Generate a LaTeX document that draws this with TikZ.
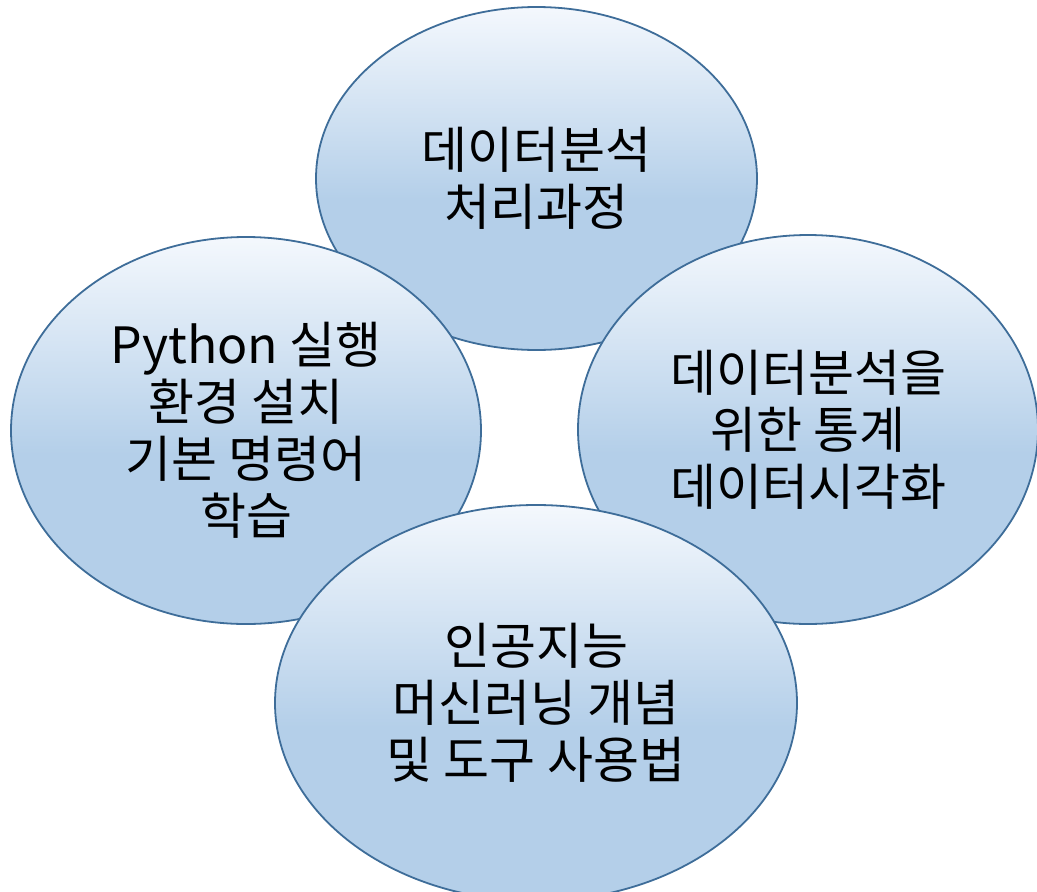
\documentclass[tikz,border=0pt]{standalone}
\usepackage{fontspec}
\usepackage{tikz}
\usetikzlibrary{shapes.geometric}
\newfontfamily\kr{Noto Sans CJK KR}
\definecolor{ovalline}{HTML}{3E6D99}
\definecolor{ovaltop}{HTML}{F4F8FD}
\definecolor{ovalbase}{HTML}{B4CFE9}
\pgfdeclareverticalshading{ovalfade}{100bp}{color(0bp)=(ovalbase); color(25bp)=(ovalbase); color(47bp)=(ovalbase); color(75bp)=(ovaltop); color(100bp)=(ovaltop)}

\begin{document}
\begin{tikzpicture}[x=1pt, y=-1pt,
  oval/.style={ellipse, draw=ovalline, line width=1.8pt, shading=ovalfade,
    inner sep=0pt, align=center, font=\kr\fontsize{50}{57}\selectfont}]
  \useasboundingbox (0,0) rectangle (1037,892);
  % four overlapping ovals, back to front
  \node[oval, minimum width=441pt, minimum height=343pt] (process) at (536.5,178.5) {데이터분석\\처리과정};
  \node[oval, minimum width=470pt, minimum height=387pt] (python) at (246,430.5) {Python 실행\\환경 설치\\기본 명령어\\학습};
  \node[oval, minimum width=460pt, minimum height=389pt] (stats) at (808,429.5) {데이터분석을\\위한 통계\\데이터시각화};
  \node[oval, minimum width=522pt, minimum height=396pt] (ai) at (536,703) {인공지능\\머신러닝 개념\\및 도구 사용법};
\end{tikzpicture}
\end{document}
